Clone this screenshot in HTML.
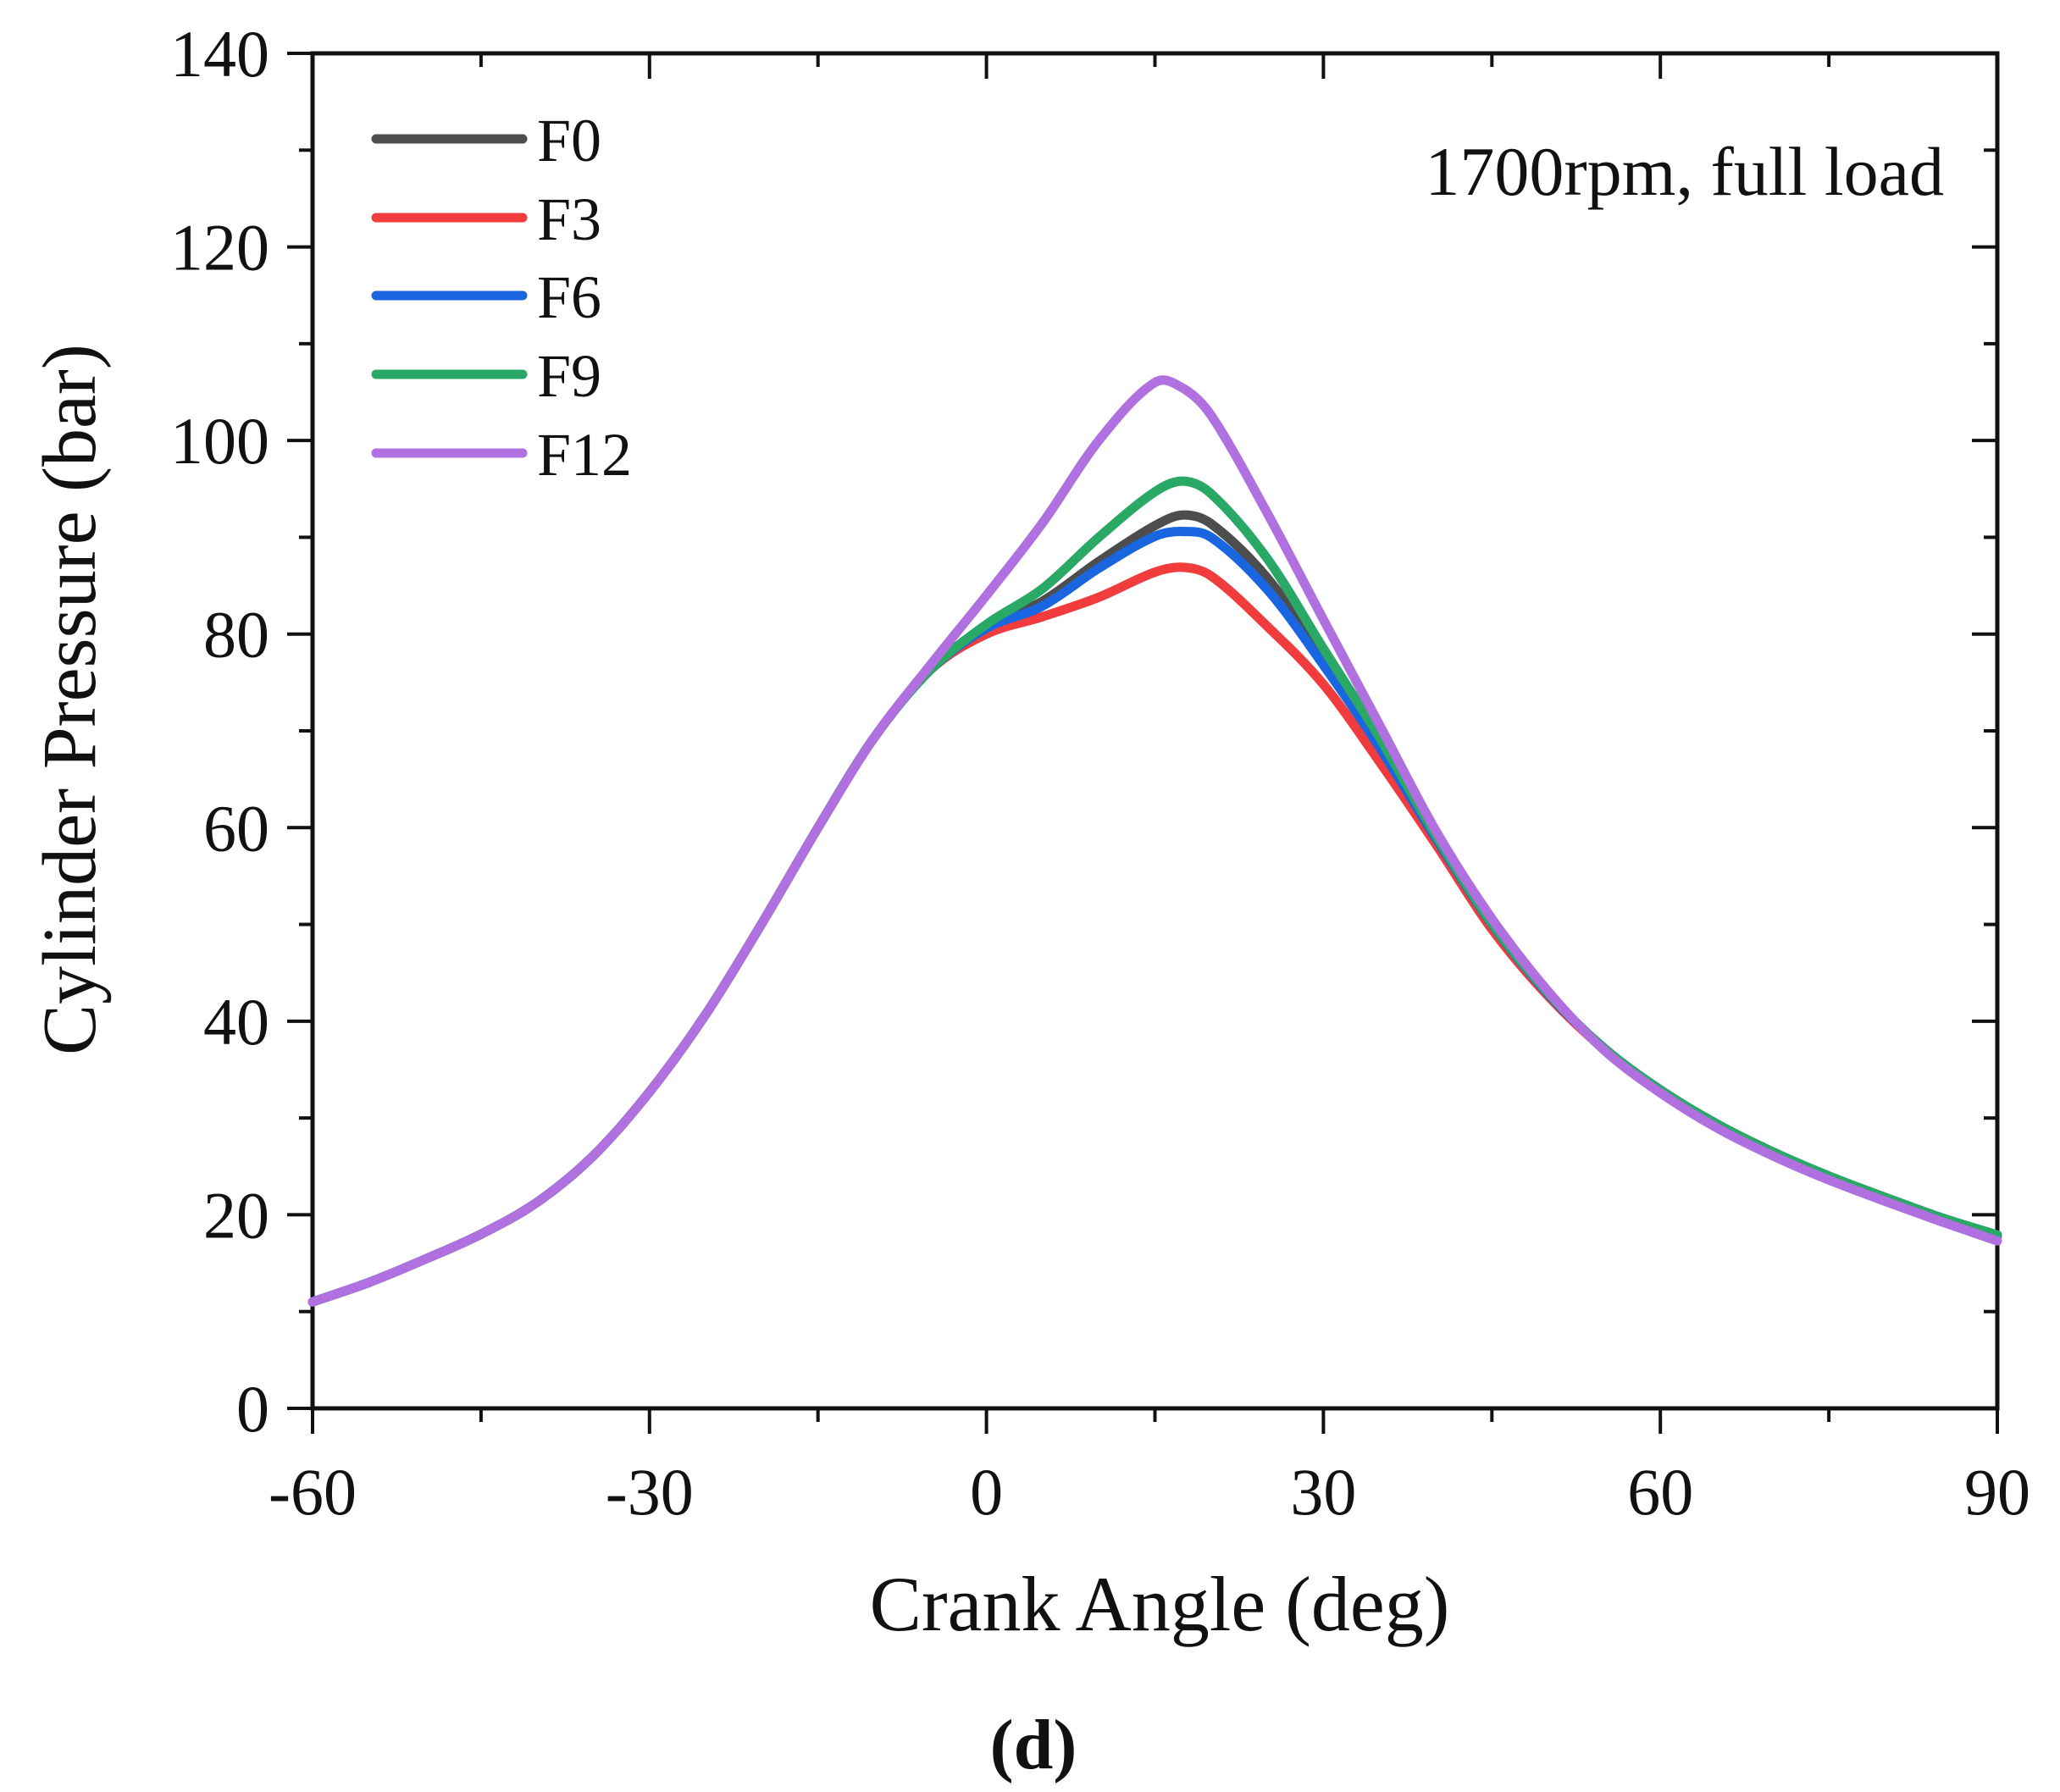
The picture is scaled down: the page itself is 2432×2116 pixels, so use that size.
<!DOCTYPE html>
<html><head><meta charset="utf-8"><style>
html,body{margin:0;padding:0;background:#fff;}
svg{display:block;font-family:"Liberation Serif",serif;}
</style></head><body>
<svg id="chart" width="2432" height="2116" viewBox="0 0 2432 2116" xmlns="http://www.w3.org/2000/svg">
<g id="axes"></g>
<g id="series"></g>
<g id="legend"></g>
<text x="2295" y="230" font-size="82" text-anchor="end" fill="#111">1700rpm, full load</text>
<text x="1369" y="1925" font-size="92" text-anchor="middle" fill="#111">Crank Angle (deg)</text>
<text transform="translate(112,826) rotate(-90)" font-size="90" text-anchor="middle" fill="#111">Cylinder Pressure (bar)</text>
<text x="1220" y="2088" font-size="84" font-weight="bold" text-anchor="middle" fill="#111">(d)</text>
</svg>
<script>
const xTicks = [-60, -30, 0, 30, 60, 90];
const yTicks = [0, 20, 40, 60, 80, 100, 120, 140];
const angles = [-60,-55,-50,-45,-40,-35,-30,-25,-20,-15,-10,-5,0,5,10,15,17.5,20,25,30,35,40,45,50,55,60,65,70,75,80,85,90];
const seriesNames = ["F0","F3","F6","F9","F12"];
const seriesColors = ["#4d4d4d","#f03c3c","#1a66e0","#2aa866","#b070e0"];
const f0  = [11,13,15.4,18,21.3,26.1,32.7,40.7,50.1,60,69.3,76.3,80.7,83.4,87.5,91.2,92.3,91.4,85.8,77.5,68.6,59,50,42.8,37.2,32.9,29.4,26.5,24,21.8,19.7,17.9];
const f3  = [11,13,15.4,18,21.3,26.1,32.7,40.7,50.1,60,69.3,76.3,80,81.8,83.8,86.4,86.9,86,80.8,74.8,66.8,58.3,49.5,42.6,37.1,32.8,29.3,26.4,23.9,21.7,19.6,17.8];
const f6  = [11,13,15.4,18,21.3,26.1,32.7,40.7,50.1,60,69.3,76.3,80.6,82.9,86.8,90.1,90.6,90,84.6,76.8,68.3,58.9,50,42.8,37.2,32.9,29.4,26.5,24,21.8,19.7,17.9];
const f9  = [11,13,15.4,18,21.3,26.1,32.7,40.7,50.1,60,69.3,76.3,81,84.7,90,94.7,95.8,94.5,87.8,78.5,69.3,59.2,50.1,42.9,37.2,32.9,29.4,26.5,24,21.8,19.7,17.9];
const f12 = [11,13,15.4,18,21.3,26.1,32.7,40.7,50.1,60,69.3,76.8,84,91.5,100,106,105.4,102.6,92.5,81.5,70.6,59.7,50.6,43.1,37,32.6,29,26.1,23.6,21.4,19.3,17.3];
const seriesValues = [f0,f3,f6,f9,f12];

const L=369,R=2358,T=63,B=1663;
const xs=v=>L+(v+60)/150*(R-L);
const ys=v=>B-v/140*(B-T);
const NS="http://www.w3.org/2000/svg";
function mk(tag,attrs,parent){const e=document.createElementNS(NS,tag);for(const k in attrs)e.setAttribute(k,attrs[k]);parent.appendChild(e);return e;}
const ax=document.getElementById('axes');
let fr=mk('rect',{x:L,y:T,width:R-L,height:B-T,fill:'none',stroke:'#111','stroke-width':5},ax);


for(let v=-60;v<=90;v+=15){
  const major=xTicks.includes(v);const x=xs(v);
  let t=mk('line',{x1:x,x2:x,y1:B,y2:B+(major?30:16),stroke:'#111','stroke-width':4},ax);
  
  
  let t2=mk('line',{x1:x,x2:x,y1:T,y2:T+(major?30:16),stroke:'#111','stroke-width':4},ax);
  
  
}
xTicks.forEach(v=>{
  let t=mk('text',{x:xs(v),y:1788,'font-size':78,'text-anchor':'middle',fill:'#111'},ax);t.textContent=(v<0?'-':'')+Math.abs(v);
  
  
});
for(let v=0;v<=140;v+=10){
  const major=v%20===0;const y=ys(v);
  let t=mk('line',{x1:L-(major?30:16),x2:L,y1:y,y2:y,stroke:'#111','stroke-width':4},ax);
  
  
  let t2=mk('line',{x1:R-(major?30:16),x2:R,y1:y,y2:y,stroke:'#111','stroke-width':4},ax);
  
  
}
yTicks.forEach(v=>{
  let t=mk('text',{x:318,y:ys(v)+27,'font-size':78,'text-anchor':'end',fill:'#111'},ax);t.textContent=v;
  
  
});
function smooth(pts){
  const n=pts.length,m=[];
  for(let i=0;i<n;i++){
    const a=pts[Math.max(0,i-1)],b=pts[Math.min(n-1,i+1)];
    m.push((b[1]-a[1])/(b[0]-a[0]));
  }
  let d='M'+pts[0][0]+','+pts[0][1];
  for(let i=0;i<n-1;i++){
    const p1=pts[i],p2=pts[i+1],h=(p2[0]-p1[0])/3;
    d+=' C'+(p1[0]+h)+','+(p1[1]+m[i]*h)+' '+(p2[0]-h)+','+(p2[1]-m[i+1]*h)+' '+p2[0]+','+p2[1];
  }
  return d;
}
const sg=document.getElementById('series');
seriesValues.forEach((vals,i)=>{
  const pts=angles.map((a,j)=>[xs(a),ys(vals[j])]);
  let p=mk('path',{d:smooth(pts),fill:'none',stroke:seriesColors[i],'stroke-width':11,'stroke-linejoin':'round','stroke-linecap':'round'},sg);
  
  
});
const lg=document.getElementById('legend');
const rowsY=[164,257,349,442,535];
seriesNames.forEach((n,i)=>{
  let l=mk('line',{x1:444,x2:617,y1:rowsY[i],y2:rowsY[i],stroke:seriesColors[i],'stroke-width':11,'stroke-linecap':'round'},lg);
  
  
  let t=mk('text',{x:634,y:rowsY[i]+26,'font-size':72,fill:'#111'},lg);t.textContent=n;
  
  
});
</script>
</body></html>
